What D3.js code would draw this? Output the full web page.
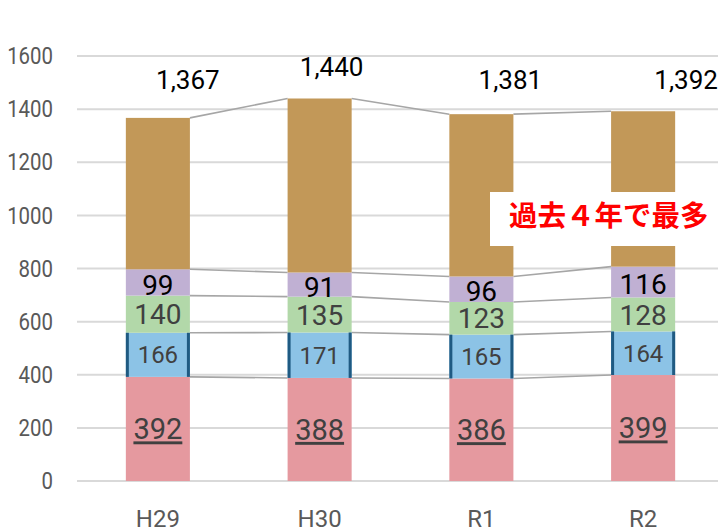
<!DOCTYPE html>
<html><head><meta charset="utf-8">
<script src="https://cdn.jsdelivr.net/npm/d3@7"></script>
<style>
html,body{margin:0;padding:0;background:#fff;}
svg{display:block;}
</style>
</head><body>
<svg id="chart" width="718" height="531"></svg>
<script>
const categories = ["H29", "H30", "R1", "R2"];
const seriesPink = [392, 388, 386, 399];
const seriesBlue = [166, 171, 165, 164];
const seriesGreen = [140, 135, 123, 128];
const seriesPurple = [99, 91, 96, 116];
const totals = [1367, 1440, 1381, 1392];
const seriesBrown = totals.map((t, i) => t - seriesPink[i] - seriesBlue[i] - seriesGreen[i] - seriesPurple[i]);
const yTicks = [0, 200, 400, 600, 800, 1000, 1200, 1400, 1600];
const annotation = "過去４年で最多";

const svg = d3.select("#chart");
const W = 718, H = 531;
const x = d3.scaleBand().domain(categories).range([77, 724]).paddingInner(0.604).paddingOuter(0.302);
const y = d3.scaleLinear().domain([0, 1600]).range([481, 56]);

const keys = ["pink", "blue", "green", "purple", "brown"];
const colors = {pink: "#e5999f", blue: "#8cc3e6", green: "#b2d8a9", purple: "#c0b0d3", brown: "#c29858"};
const rows = categories.map((c, i) => ({cat: c, pink: seriesPink[i], blue: seriesBlue[i], green: seriesGreen[i], purple: seriesPurple[i], brown: seriesBrown[i]}));
const stacked = d3.stack().keys(keys)(rows);

// gridlines
svg.append("g").selectAll("line").data(yTicks).join("line")
  .attr("x1", 77).attr("x2", W)
  .attr("y1", d => y(d)).attr("y2", d => y(d))
  .attr("stroke", "#d9d9d9").attr("stroke-width", 2);

// y axis labels
const yAxis = svg.append("g").attr("transform", "translate(53,0)")
  .call(d3.axisLeft(y).tickValues(yTicks).tickSize(0).tickPadding(0).tickFormat(d3.format("d")));
yAxis.select(".domain").remove();
yAxis.selectAll("text").attr("font-family", "Roboto").attr("font-size", 24).attr("fill", "#595959")
  .attr("transform", "scale(0.85,1)").attr("x", 0).attr("text-anchor", "end");

// x axis labels
const xAxis = svg.append("g").attr("transform", "translate(0,519)")
  .call(d3.axisBottom(x).tickSize(0).tickPadding(0));
xAxis.select(".domain").remove();
xAxis.selectAll("text").attr("font-family", "Roboto").attr("font-size", 24).attr("fill", "#595959")
  .attr("dy", "0.35em").attr("y", 0);

// connector lines
const bw = x.bandwidth();
const conn = svg.append("g");
stacked.forEach(layer => {
  for (let i = 0; i < categories.length - 1; i++) {
    conn.append("line")
      .attr("x1", x(categories[i]) + bw).attr("x2", x(categories[i + 1]))
      .attr("y1", y(layer[i][1])).attr("y2", y(layer[i + 1][1]))
      .attr("stroke", "#a6a6a6").attr("stroke-width", 1.6);
  }
});

// bars
stacked.forEach(layer => {
  svg.append("g").selectAll("rect").data(layer).join("rect")
    .attr("x", d => x(d.data.cat)).attr("width", bw)
    .attr("y", d => y(d[1])).attr("height", d => y(d[0]) - y(d[1]))
    .attr("fill", colors[layer.key]);
});
// blue side borders
const blueLayer = stacked[1];
["left", "right"].forEach(side => {
  svg.append("g").selectAll("line").data(blueLayer).join("line")
    .attr("x1", d => x(d.data.cat) + (side === "left" ? 1.5 : bw - 1.5))
    .attr("x2", d => x(d.data.cat) + (side === "left" ? 1.5 : bw - 1.5))
    .attr("y1", d => y(d[1])).attr("y2", d => y(d[0]))
    .attr("stroke", "#1f5a82").attr("stroke-width", 3);
});

// segment labels
const labelStyle = {pink: {size: 29, fill: "#404040", underline: true}, blue: {size: 24, fill: "#404040"},
  green: {size: 28, fill: "#404040"}, purple: {size: 28, fill: "#000"}};
["pink", "blue", "green", "purple"].forEach((k, li) => {
  const layer = stacked[li];
  const st = labelStyle[k];
  svg.append("g").selectAll("text").data(layer).join("text")
    .attr("x", d => x(d.data.cat) + bw / 2)
    .attr("y", d => (y(d[0]) + y(d[1])) / 2 + (k === "purple" ? 2 : 0))
    .attr("dy", "0.36em").attr("text-anchor", "middle")
    .attr("font-family", "Roboto").attr("font-size", st.size).attr("fill", st.fill)
    .attr("text-decoration", st.underline ? "underline" : null)
    .text(d => d.data[k]);
});

// total labels
const totalDx = [30, 12, 29, 43];
const totalDy = [0, -13, 0, 0];
svg.append("g").selectAll("text").data(totals).join("text")
  .attr("x", (d, i) => x(categories[i]) + bw / 2 + totalDx[i])
  .attr("y", (d, i) => 89 + totalDy[i])
  .attr("text-anchor", "middle").attr("font-family", "Roboto").attr("font-size", 26).attr("fill", "#000")
  .text(d => d3.format(",")(d));

// annotation box
svg.append("rect").attr("x", 490).attr("y", 192).attr("width", 240).attr("height", 54).attr("fill", "#fff");
svg.append("text").attr("x", 509).attr("y", 216).attr("dy", "0.36em")
  .attr("font-family", "Noto Sans CJK JP").attr("font-weight", "bold").attr("font-size", 28.5)
  .attr("fill", "#ff0000").text(annotation);
</script>
</body></html>
